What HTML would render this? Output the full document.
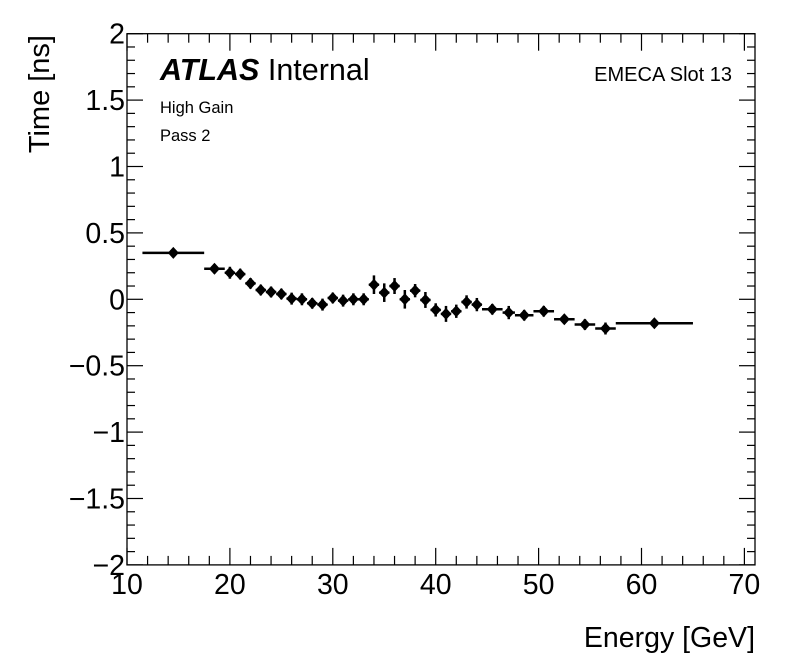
<!DOCTYPE html>
<html><head><meta charset="utf-8"><style>
html,body{margin:0;padding:0;background:#fff;}
svg{display:block;font-family:"Liberation Sans",sans-serif;}
</style></head><body>
<svg id="chart" width="796" height="672" viewBox="0 0 796 672">
<rect x="0" y="0" width="796" height="672" fill="#fff"/>
<g id="axes"></g>
<g id="marks"></g>
<text x="160" y="80" font-size="30.5" font-weight="bold" font-style="italic">ATLAS <tspan font-weight="normal" font-style="normal">Internal</tspan></text>
<text x="160" y="113" font-size="16.5">High Gain</text>
<text x="160" y="141" font-size="16.5">Pass 2</text>
<text x="732" y="81" font-size="20" text-anchor="end">EMECA Slot 13</text>
<text x="755" y="647" font-size="28.5" text-anchor="end">Energy [GeV]</text>
<text transform="translate(49,35) rotate(-90)" font-size="29" text-anchor="end">Time [ns]</text>
</svg>
<script>
const xCenters=[14.5,18.5,20,21,22,23,24,25,26,27,28,29,30,31,32,33,34,35,36,37,38,39,40,41,42,43,44,45.5,47.1,48.6,50.5,52.5,54.5,56.5,61.25];
const xHalfWidths=[3,1,0.5,0.5,0.5,0.5,0.5,0.5,0.5,0.5,0.5,0.5,0.5,0.5,0.5,0.5,0.5,0.5,0.5,0.5,0.5,0.5,0.5,0.5,0.5,0.5,0.5,1,0.6,0.9,1,1,1,1,3.75];
const yValues=[0.35,0.23,0.2,0.19,0.12,0.07,0.055,0.04,0.005,0,-0.03,-0.04,0.01,-0.01,0,0,0.11,0.05,0.1,0,0.065,-0.005,-0.08,-0.11,-0.09,-0.02,-0.04,-0.075,-0.1,-0.12,-0.09,-0.15,-0.19,-0.22,-0.18];
const yErrors=[0.03,0.035,0.045,0.04,0.04,0.04,0.04,0.04,0.045,0.045,0.04,0.045,0.04,0.045,0.045,0.045,0.07,0.07,0.06,0.07,0.05,0.06,0.05,0.06,0.05,0.05,0.05,0.04,0.05,0.04,0.04,0.035,0.04,0.045,0.02];
const xTicks=[10,20,30,40,50,60,70];
const yTicks=[-2,-1.5,-1,-0.5,0,0.5,1,1.5,2];
const yTickLabels=["\u22122","\u22121.5","\u22121","\u22120.5","0","0.5","1","1.5","2"];
const L=127,R=755,T=33.7,B=564.9,X0=10,X1=71.03,Y0=-2,Y1=2;
const sx=v=>L+(v-X0)/(X1-X0)*(R-L);
const sy=v=>B-(v-Y0)/(Y1-Y0)*(B-T);
const NS="http://www.w3.org/2000/svg";
const ax=document.getElementById('axes'),mk=document.getElementById('marks');
function mkEl(t,a,p){const e=document.createElementNS(NS,t);for(const k in a)e.setAttribute(k,a[k]);p.appendChild(e);return e;}
const fr=mkEl('rect',{x:L,y:T,width:R-L,height:B-T,fill:'none',stroke:'#000','stroke-width':1.3},ax);


for(let v=10;v<=71;v+=2){const major=(v%10===0);const len=major?17:9;const x=sx(v);
 const t1=mkEl('line',{x1:x,x2:x,y1:B,y2:B-len,stroke:'#000','stroke-width':1.2},ax);
 
 
 const t2=mkEl('line',{x1:x,x2:x,y1:T,y2:T+len,stroke:'#000','stroke-width':1.2},ax);
 
 }
for(let i=0;i<=40;i++){const v=-2+i*0.1;const major=(i%5===0);const len=major?16:8;const y=sy(v);
 const t1=mkEl('line',{x1:L,x2:L+len,y1:y,y2:y,stroke:'#000','stroke-width':1.2},ax);
 
 
 const t2=mkEl('line',{x1:R,x2:R-len,y1:y,y2:y,stroke:'#000','stroke-width':1.2},ax);
 
 }
xTicks.forEach(v=>{const t=mkEl('text',{x:sx(v),y:594,'font-size':28.5,'text-anchor':'middle'},ax);t.textContent=v;
 
 });
yTicks.forEach((v,i)=>{const t=mkEl('text',{x:125,y:sy(v)+10,'font-size':28.5,'text-anchor':'end'},ax);t.textContent=yTickLabels[i];
 
 });
xCenters.forEach((c,i)=>{const g=mkEl('g',{},mk);
 
 
 const y=sy(yValues[i]);const x=sx(c);
 mkEl('line',{x1:sx(c-xHalfWidths[i]),x2:sx(c+xHalfWidths[i]),y1:y,y2:y,stroke:'#000','stroke-width':2.5},g);
 mkEl('line',{x1:x,x2:x,y1:sy(yValues[i]+yErrors[i]),y2:sy(yValues[i]-yErrors[i]),stroke:'#000','stroke-width':2.5},g);
 mkEl('path',{d:`M${x} ${y-6}L${x+5.5} ${y}L${x} ${y+6}L${x-5.5} ${y}Z`,fill:'#000'},g);
 mkEl('circle',{cx:x,cy:y,r:3.8,fill:'#000'},g);});
</script>
</body></html>
